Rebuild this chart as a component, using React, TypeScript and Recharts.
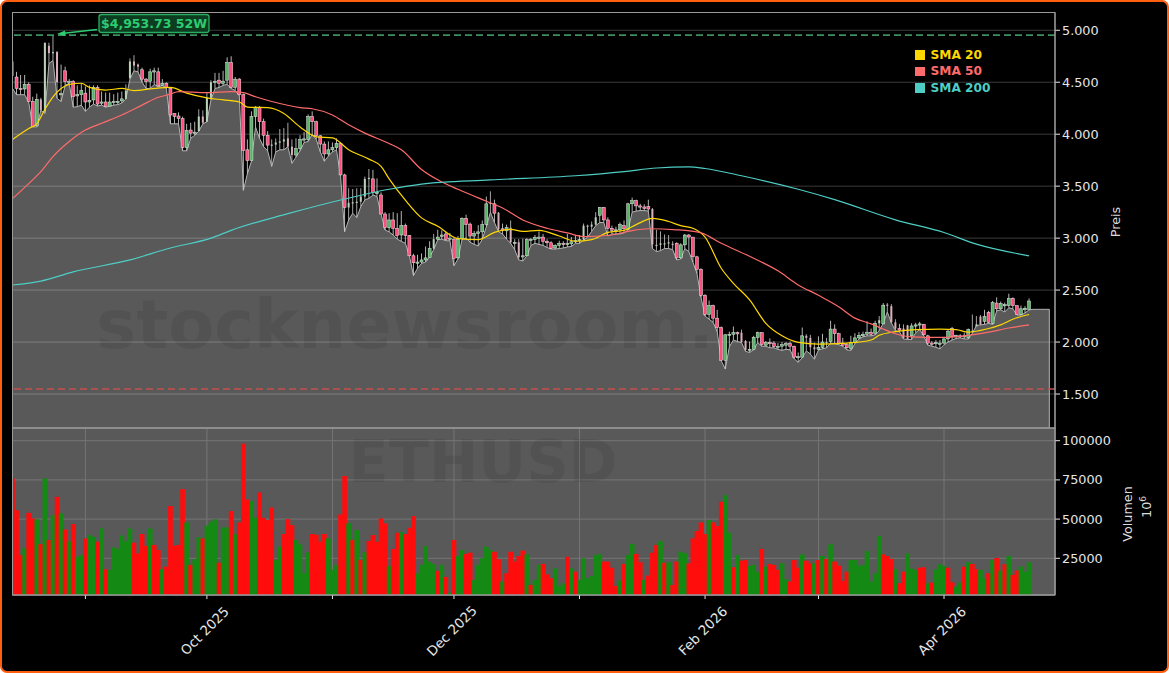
import React from "react";
import {
  ComposedChart, Area, Bar, Line, XAxis, YAxis, CartesianGrid, ReferenceLine, Cell, Legend,
} from "recharts";

const FONT = "'DejaVu Sans', sans-serif";

// Daily candles, index 0 = 14 Aug 2025
const opens = [
  4700,4550,4440,4435,4480,4315,4080,4335,4220,4850,
  4780,4790,4380,4610,4500,4510,4370,4380,4395,4310,
  4330,4450,4300,4310,4270,4310,4310,4320,4340,4540,
  4700,4670,4620,4530,4510,4600,4600,4470,4490,4440,
  4200,4175,4150,3870,4040,4010,4030,4170,4120,4350,
  4500,4520,4490,4520,4690,4450,4530,4380,3850,3745,
  4170,4260,4120,3990,3895,3900,3920,3930,3960,3880,
  3800,3860,3950,3950,4170,4120,3985,3905,3810,3850,
  3870,3910,3608,3295,3340,3340,3350,3400,3570,3570,
  3440,3415,3232,3100,3175,3094,3030,3120,3024,2830,
  2765,2770,2790,2815,2900,2990,3015,3040,2990,2990,
  2810,2995,3190,3135,3020,3045,3060,3130,3330,3330,
  3245,3090,3070,3100,2950,2960,2820,2830,2985,2985,
  3005,3010,2970,2955,2905,2930,2950,2945,2945,2965,
  2975,2985,3120,3110,3130,3220,3295,3175,3095,3075,
  3080,3120,3085,3330,3360,3310,3300,3305,3280,2930,
  2935,2950,2950,2945,2950,2810,2935,3030,3010,2820,
  2700,2450,2265,2350,2230,2140,1825,2070,2075,2090,
  2090,2010,1925,1930,2045,2090,1970,1995,1990,1955,
  1960,1970,1985,1960,1855,1855,2060,2040,1950,1930,
  1950,1995,2005,2125,2080,1990,1975,1940,1995,2040,
  2060,2075,2095,2085,2180,2175,2360,2345,2190,2130,
  2130,2160,2060,2155,2165,2170,2060,1990,1985,1990,
  1990,2030,2130,2050,2060,2050,2040,2110,2150,2245,
  2200,2285,2180,2375,2320,2350,2350,2420,2350,2265,
  2310,2315,
];
const closes = [
  4560,4440,4430,4480,4315,4075,4335,4230,4880,4780,
  4790,4500,4390,4505,4510,4360,4380,4420,4310,4325,
  4450,4290,4310,4270,4310,4315,4315,4340,4420,4700,
  4660,4650,4530,4505,4600,4610,4465,4490,4450,4185,
  4170,4150,3870,4035,4010,4020,4170,4110,4350,4500,
  4510,4490,4510,4690,4450,4530,4380,3845,3745,4170,
  4260,4120,3990,3895,3900,3920,3930,3950,3880,3800,
  3860,3950,3955,4170,4120,3985,3905,3810,3850,3870,
  3910,3608,3293,3340,3345,3350,3400,3570,3580,3440,
  3440,3232,3100,3175,3094,3024,3120,3024,2830,2763,
  2770,2790,2810,2900,2990,3010,3030,2985,3000,2805,
  2990,3190,3130,3020,3045,3060,3130,3330,3340,3240,
  3085,3075,3100,2960,2960,2815,2830,2985,2990,3005,
  3010,2970,2955,2900,2930,2950,2945,2950,2965,2975,
  2985,3120,3110,3130,3200,3295,3175,3095,3075,3080,
  3130,3090,3330,3360,3310,3300,3285,3280,2940,2935,
  2950,2950,2960,2940,2810,2935,3030,3010,2820,2700,
  2450,2265,2350,2230,2140,1825,2070,2075,2090,2080,
  2000,1925,1930,2045,2090,1975,1995,1990,1955,1960,
  1975,1985,1960,1855,1860,2060,2040,1950,1930,1950,
  2000,2000,2125,2080,1990,1970,1945,1995,2040,2065,
  2075,2095,2075,2180,2210,2355,2350,2190,2130,2115,
  2040,2030,2155,2165,2175,2070,1990,1985,1995,1990,
  2030,2105,2050,2065,2050,2060,2120,2110,2170,2170,
  2245,2190,2380,2320,2370,2360,2420,2350,2265,2320,
  2325,2395,
];
const highs = [
  4760,4600,4570,4570,4500,4360,4390,4350,4880,4880,
  4953,4800,4670,4650,4530,4520,4470,4490,4460,4470,
  4470,4470,4410,4400,4400,4385,4400,4410,4480,4730,
  4760,4680,4640,4540,4630,4640,4640,4530,4500,4450,
  4200,4210,4170,4100,4110,4120,4240,4230,4400,4520,
  4590,4590,4610,4740,4750,4550,4540,4390,3950,4220,
  4270,4270,4150,4030,3950,3960,4050,4060,4110,3950,
  3960,3990,4020,4190,4220,4130,3990,3930,3930,3920,
  3960,3920,3620,3480,3473,3480,3480,3592,3665,3656,
  3575,3440,3250,3240,3250,3240,3260,3140,3030,2850,
  2840,2853,2920,2970,3040,3080,3075,3060,3050,3000,
  3020,3200,3225,3150,3070,3125,3170,3400,3450,3370,
  3250,3140,3130,3170,2990,2990,2995,3000,3000,3030,
  3065,3040,2990,2970,2940,2975,2970,3040,3010,3030,
  3030,3140,3130,3160,3250,3300,3300,3200,3120,3110,
  3150,3170,3340,3390,3370,3330,3325,3370,3290,3080,
  3065,3035,3030,2970,2960,2950,3040,3040,3010,2830,
  2710,2460,2400,2360,2310,2150,2075,2100,2150,2100,
  2120,2020,2005,2060,2100,2095,2010,2035,2010,1990,
  2000,2000,2005,1965,1900,2140,2075,2070,1995,2055,
  2080,2040,2205,2170,2090,2040,1990,2060,2085,2095,
  2100,2200,2130,2205,2250,2375,2375,2365,2220,2175,
  2170,2165,2180,2185,2195,2175,2070,2010,2020,2020,
  2050,2120,2145,2070,2075,2090,2130,2265,2250,2260,
  2310,2300,2395,2430,2390,2380,2465,2430,2355,2350,
  2345,2420,
];
// The grey filled profile follows the daily lows, and runs flat for five days past the last candle.
const lows = [
  4440,4380,4380,4380,4310,4070,4070,4230,4200,4680,
  4710,4345,4315,4470,4490,4260,4265,4280,4220,4260,
  4290,4270,4280,4260,4270,4280,4285,4300,4340,4530,
  4610,4600,4500,4440,4440,4480,4455,4470,4440,4100,
  4100,4100,3840,3840,3960,3990,4030,4100,4120,4330,
  4440,4450,4470,4480,4440,4420,4370,3460,3620,3740,
  4070,3960,3880,3840,3690,3830,3850,3850,3880,3720,
  3780,3840,3920,3930,4000,3950,3830,3740,3790,3830,
  3850,3600,3062,3175,3240,3197,3303,3367,3383,3415,
  3400,3232,3078,3060,3030,2990,2970,2950,2830,2640,
  2710,2757,2770,2820,2890,2985,2990,2975,2975,2735,
  2800,2990,3000,2960,2940,2925,2990,3110,3250,3150,
  3060,3040,2990,2950,2890,2790,2780,2830,2930,2950,
  2940,2930,2910,2895,2895,2900,2905,2915,2920,2950,
  2950,2980,3010,3065,3120,3150,3150,3020,3040,3040,
  3040,3050,3080,3250,3260,3265,3265,3260,2900,2870,
  2880,2900,2900,2890,2790,2800,2900,2870,2770,2660,
  2430,2250,2220,2190,2100,1820,1740,1955,2020,2005,
  1995,1910,1900,1925,1995,1960,1960,1945,1945,1930,
  1920,1930,1925,1840,1805,1850,1915,1885,1835,1925,
  1935,1945,1990,1985,1975,1960,1925,1920,1985,2030,
  2050,2060,2060,2070,2110,2180,2290,2185,2110,2100,
  2030,2025,2025,2090,2120,2060,1970,1960,1950,1935,
  1975,2000,2020,2035,2040,2030,2030,2085,2160,2165,
  2170,2180,2170,2300,2310,2290,2330,2320,2260,2260,
  2280,2310,
  2315,2315,2315,2315,2315,
];
// Candles that look washed out in the picture
const faintCandles = [
  0,7,8,9,10,11,28,29,30,31,46,47,48,49,64,65,66,67,68,69,83,84,85,86,87,88,
  104,118,120,123,125,141,142,143,144,158,159,160,161,162,163,180,181,196,197,198,201,214,216,217,218,220,221,237,238,239,
];

const sma20Readings = [
  [0,3950],[4,4055],[6,4100],[8,4240],[10,4360],[12,4440],[14,4480],[17,4490],[19,4450],[23,4425],
  [27,4440],[30,4420],[34,4435],[39,4450],[43,4395],[48,4350],[52,4330],[56,4310],[58,4260],[63,4255],
  [67,4200],[71,4070],[75,3975],[79,3965],[83,3850],[88,3760],[91,3690],[93,3570],[97,3365],[101,3195],
  [105,3115],[110,2995],[115,2985],[119,3055],[123,3085],[126,3065],[130,3075],[135,3020],[139,2970],[143,2985],
  [147,3055],[151,3075],[154,3130],[158,3190],[162,3160],[165,3120],[168,3095],[171,3010],[175,2710],[178,2565],
  [182,2405],[186,2180],[190,2060],[194,1997],[199,1980],[206,1990],[212,2020],[214,2065],[218,2100],[223,2120],
  [229,2125],[233,2120],[236,2095],[241,2130],[244,2165],[247,2220],[251,2265],
];
const sma50Readings = [
  [0,3380],[4,3525],[7,3640],[10,3785],[14,3930],[18,4040],[22,4105],[27,4185],[32,4280],[36,4355],
  [39,4385],[41,4410],[48,4400],[54,4410],[57,4400],[60,4360],[64,4315],[71,4255],[74,4245],[79,4185],
  [83,4090],[87,4010],[93,3910],[96,3850],[101,3660],[106,3540],[110,3470],[117,3355],[121,3290],[126,3175],
  [132,3095],[137,3050],[141,3015],[147,3025],[152,3065],[157,3090],[164,3080],[170,3050],[175,2950],[182,2825],
  [189,2685],[194,2550],[199,2450],[204,2340],[208,2230],[212,2175],[215,2125],[218,2080],[222,2050],[229,2045],
  [235,2060],[241,2095],[246,2135],[251,2165],
];
const sma200Readings = [
  [0,2549],[7,2587],[15,2675],[29,2790],[39,2905],[49,3000],[54,3075],[68,3235],[81,3367],[93,3470],
  [101,3520],[118,3560],[139,3600],[151,3640],[159,3675],[167,3685],[171,3670],[180,3600],[190,3510],[194,3470],
  [203,3370],[218,3176],[230,3054],[238,2942],[251,2830],
];

const volumes = [
  75900,55700,27000,31400,54000,50400,49800,34100,75900,36700,
  52500,64200,53600,43400,36000,46800,26000,27000,37700,39800,
  38800,35600,44000,18000,17600,32000,31100,39600,36000,44000,
  35000,28200,40500,33000,44000,33500,30300,18000,19700,58300,
  33000,33500,69100,47900,20800,24400,38400,37700,45800,48300,
  49800,22200,44700,44700,55100,40500,47900,98100,62500,61500,
  50900,67000,50900,49400,57400,24000,32400,40500,50000,46200,
  36700,33900,15500,28800,40500,40000,35600,40500,37700,17600,
  20800,53000,77400,47300,36700,43000,24000,28800,36000,39800,
  35600,50400,47300,20100,31000,41300,41700,40500,44500,51900,
  15500,20800,32800,22900,21400,17000,20800,13100,3000,36700,
  26500,30300,27800,28600,11200,20800,25000,32400,30300,29200,
  24400,10200,15500,29200,22900,26500,29900,27500,8000,11200,
  20800,21400,14800,12300,18600,7400,9100,26000,18600,16500,
  11200,25000,12300,13800,27100,27800,22900,22900,19000,7400,
  10800,21400,27100,34100,27800,22500,11200,14000,28600,33500,
  36000,22200,22500,8000,22900,29200,28200,21800,37700,42400,
  47900,40500,49400,47900,45600,61000,65300,41300,19300,27100,
  23500,24000,20100,20800,16500,31000,19700,21400,20800,17600,
  21800,11600,10200,23900,19000,27500,23500,21800,21800,23900,
  26500,24600,33900,22900,20300,10600,16500,23900,23900,20300,
  20800,29700,10200,15500,39200,27500,26500,24600,18000,9100,
  16500,28200,18600,17600,19000,19300,9100,9500,18000,21400,
  20100,19000,9700,7000,9500,19700,22500,21400,18000,17600,
  12300,15500,23900,25200,17200,21200,26500,14400,17200,19700,
  16500,22500,
];
const volumeSides = (
  "RRRGRRGRGR" + "GRGRGRGGRG" + "GRGRGGGGGG" + "RRRRGRRGRR" + "RRRGRGGRGG" +
  "GRGGRGRRRG" + "GRRRRGGRRR" + "GGGGRRRRGG" + "GRRGRGRGRR" + "RRRGRRGRRR" +
  "GGGGGRGRGR" + "GGRRGGGGGR" + "RGRRRRRGRG" + "GRRRGGGRGR" + "GGGGGGRRRR" +
  "GRGGRRGRRR" + "GRGRRGGRRR" + "RRGRRRGGRG" + "RRGGGRGRRR" + "GGRRRGRRGR" +
  "GRGRRRRGGG" + "GGGGGRRRGR" + "RGGGRRGRGG" + "GRRGGRGRRG" + "GRGRGRGRRGGG"
).split("");

const monthTickIndex = [18, 48, 79, 109, 140, 171, 199, 230];
const monthTickLabels = ["", "Oct 2025", "", "Dec 2025", "", "Feb 2026", "", "Apr 2026"];
const priceTicks = [1500, 2000, 2500, 3000, 3500, 4000, 4500, 5000];
const volumeTicks = [25000, 50000, 75000, 100000];
const high52 = 4953.73;
const low52 = 1548;

const smaSeries = [
  { key: "sma20", name: "SMA 20", color: "#ffd700", readings: sma20Readings },
  { key: "sma50", name: "SMA 50", color: "#ff6b6b", readings: sma50Readings },
  { key: "sma200", name: "SMA 200", color: "#4ecdc4", readings: sma200Readings },
];

const priceRows = lows.map((low, i) => {
  const row: any = { i, low };
  if (i < opens.length) {
    row.open = opens[i];
    row.close = closes[i];
    row.high = highs[i];
    row.range = [low, highs[i]];
    row.faint = faintCandles.includes(i);
  }
  smaSeries.forEach((s) => {
    const hit = s.readings.find((r) => r[0] === i);
    if (hit) row[s.key] = hit[1];
  });
  return row;
});
const volumeRows = volumes.map((volume, i) => ({ i, volume, side: volumeSides[i] }));

const X_DOMAIN: [number, number] = [0, 257.4];
const PRICE_DOMAIN: [number, number] = [1173, 5171];
const VOLUME_DOMAIN: [number, number] = [1600, 108100];

function Candle(props: any) {
  const { x, y, width, height, payload } = props;
  if (!payload || payload.high == null) return null;
  const { open, close, high, low, faint } = payload;
  const at = (v: number) => y + ((high - v) / (high - low)) * height;
  const cx = x + width / 2;
  const up = close >= open;
  const top = Math.min(at(open), at(close));
  const h = Math.max(Math.abs(at(open) - at(close)), 1.2);
  const fill = faint ? (up ? "#b9d3bb" : "#d8b0bb") : up ? "#58b368" : "#ff4d7d";
  const w = faint ? 2 : 3;
  return (
    <g>
      <line x1={cx} x2={cx} y1={y} y2={y + height} stroke={faint ? "#b8b8b8" : "#c8c8c8"} strokeWidth={0.9} />
      <rect x={cx - w / 2} y={top} width={w} height={h} fill={fill}
        stroke={faint ? "none" : "#e8e8e8"} strokeWidth={0.5} />
    </g>
  );
}

function VolumeBar(props: any) {
  const { x, y, width, height, fill } = props;
  return <rect x={x - 0.35} y={y} width={width + 0.7} height={height} fill={fill} />;
}

function DateTick(props: any) {
  const { x, y, payload, index } = props;
  const label = monthTickLabels[monthTickIndex.indexOf(payload.value)] ?? monthTickLabels[index];
  if (!label) return null;
  const cx = x - 2;
  const cy = y + 30;
  return (
    <text x={cx} y={cy} textAnchor="middle" dominantBaseline="central" fontSize={13.4}
      fontFamily={FONT} fill="#e6e6e6" transform={`rotate(-45 ${cx} ${cy})`}>
      {label}
    </text>
  );
}

const formatPrice = (v: number) => `${Math.floor(v / 1000)}.${String(v % 1000).padStart(3, "0")}`;

function SmaLegend(props: any) {
  const payload = props.payload || [];
  const items = smaSeries.map((s) => payload.find((p: any) => p.value === s.name)).filter(Boolean);
  return (
    <div style={{ fontFamily: FONT, fontWeight: 700, fontSize: 12.2, lineHeight: "16.5px" }}>
      {items.map((p: any) => (
        <div key={p.value} style={{ color: p.color, display: "flex", alignItems: "center", whiteSpace: "nowrap" }}>
          <span style={{ width: 9.5, height: 9.5, background: p.color, marginRight: 6, display: "inline-block" }} />
          {p.value}
        </div>
      ))}
    </div>
  );
}

const tickStyle = { fontSize: 12.8, fontFamily: FONT, fill: "#e6e6e6" };
const axisLine = { stroke: "#9a9a9a", strokeWidth: 1 };
const tickLine = { stroke: "#e6e6e6", strokeWidth: 1 };

export default function App() {
  return (
    <div style={{ position: "fixed", left: 0, top: 0, width: 1169, height: 673, background: "#fff" }}>
      <div style={{
        position: "absolute", inset: 0, boxSizing: "border-box", background: "#000",
        border: "2.5px solid #ff5f0f", borderRadius: 7,
      }} />
      <div style={{ position: "absolute", left: 0, top: 0 }}>
        <ComposedChart width={1169} height={430} data={priceRows}
          margin={{ top: 12.5, right: 54, bottom: 2, left: 12.5 }}>
          <CartesianGrid stroke="#3a3a3a" strokeWidth={1} />
          <XAxis dataKey="i" type="number" domain={X_DOMAIN} ticks={monthTickIndex} allowDataOverflow
            tick={false} tickLine={false} axisLine={false} height={0} />
          <YAxis orientation="right" width={60} domain={PRICE_DOMAIN} ticks={priceTicks} allowDataOverflow
            tick={tickStyle} tickFormatter={formatPrice} axisLine={axisLine} tickLine={tickLine} tickSize={5} />
          <Area dataKey="low" type="linear" stroke="#b4b4b4" strokeWidth={1} fill="#ffffff" fillOpacity={0.35}
            isAnimationActive={false} dot={false} activeDot={false} legendType="none" />
          <ReferenceLine segment={[{ x: 256, y: 2315 }, { x: 256, y: PRICE_DOMAIN[0] }]} stroke="#b4b4b4" />
          <ReferenceLine y={high52} stroke="#3f8f5f" strokeWidth={1.6} strokeDasharray="7 4" />
          <ReferenceLine y={low52} stroke="#c4504f" strokeWidth={1.6} strokeDasharray="7 4" />
          <Bar dataKey="range" barSize={4} shape={<Candle />} isAnimationActive={false} legendType="none" />
          {smaSeries.map((s) => (
            <Line key={s.key} dataKey={s.key} name={s.name} stroke={s.color} strokeWidth={1.2} type="monotone"
              dot={false} activeDot={false} connectNulls isAnimationActive={false} legendType="square" />
          ))}
          <Legend content={<SmaLegend />} layout="vertical" verticalAlign="middle" align="center"
            wrapperStyle={{ left: 915, top: 46.5, width: 100 }} />
        </ComposedChart>
      </div>
      <div style={{ position: "absolute", left: 0, top: 428 }}>
        <ComposedChart width={1169} height={245} data={volumeRows}
          margin={{ top: 0, right: 54, bottom: 18, left: 12.5 }}>
          <CartesianGrid stroke="#757575" strokeWidth={1} fill="#595959" />
          <XAxis dataKey="i" type="number" domain={X_DOMAIN} ticks={monthTickIndex} allowDataOverflow interval={0}
            tick={<DateTick />} axisLine={axisLine} tickLine={tickLine} tickSize={4} height={60} />
          <YAxis orientation="right" width={60} domain={VOLUME_DOMAIN} ticks={volumeTicks} allowDataOverflow
            tick={tickStyle} axisLine={axisLine} tickLine={tickLine} tickSize={5} />
          <Bar dataKey="volume" barSize={4} shape={<VolumeBar />} isAnimationActive={false}>
            {volumeRows.map((r) => (
              <Cell key={r.i} fill={r.side === "R" ? "#ff0d0d" : "#148a14"} />
            ))}
          </Bar>
        </ComposedChart>
      </div>
      <svg width={1169} height={673} style={{ position: "absolute", left: 0, top: 0, pointerEvents: "none" }}>
        <g fontFamily={FONT} fontWeight={700} fill="#000" fillOpacity={0.07} textAnchor="middle">
          <text x={405} y={348} fontSize={67}>stocknewsroom.</text>
          <text x={483} y={482} fontSize={59}>ETHUSD</text>
        </g>
        <rect x={12.5} y={12.5} width={1042.5} height={415.5} fill="none" stroke="#9a9a9a" />
        <rect x={12.5} y={428} width={1042.5} height={167} fill="none" stroke="#9a9a9a" />
        <line x1={97} y1={29.5} x2={64} y2={33.2} stroke="#2ecc71" strokeWidth={1.6} />
        <polygon points="57,34 65,30.5 65.8,36" fill="#2ecc71" />
        <rect x={99} y={14.5} width={110} height={18} rx={2.5} fill="#0c3d21" stroke="#27ae60" strokeWidth={1.3} />
        <text x={154} y={27.5} fontFamily={FONT} fontWeight={700} fontSize={12.5} fill="#2ecc71" textAnchor="middle">
          $4,953.73 52W
        </text>
        <g fontFamily={FONT} fontSize={12.8} fill="#dcdcdc" textAnchor="middle">
          <text transform="rotate(-90 1120 222)" x={1120} y={222}>Preis</text>
          <text transform="rotate(-90 1132 514)" x={1132} y={514}>Volumen</text>
          <text transform="rotate(-90 1151 507)" x={1151} y={507}>
            10<tspan fontSize={9} dy={-5}>6</tspan>
          </text>
        </g>
      </svg>
    </div>
  );
}
